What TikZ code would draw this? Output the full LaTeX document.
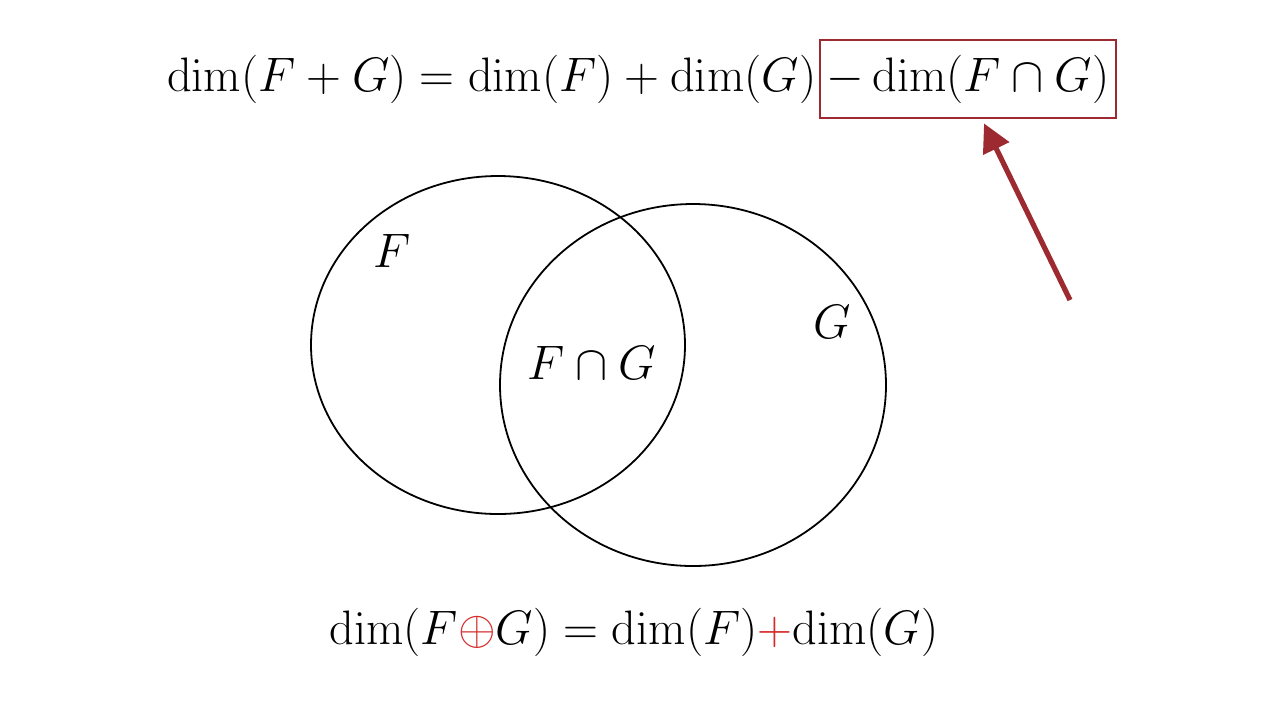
\documentclass[tikz,border=0pt]{standalone}
\usepackage{fix-cm}
\usepackage{amsmath}
\usetikzlibrary{arrows.meta}
\definecolor{boxred}{HTML}{9E2A31}
\definecolor{brightred}{HTML}{D42A2A}
\tikzset{
  big/.style={font=\fontsize{24.2}{29}\selectfont, inner sep=0pt},
  setline/.style={draw=black, line width=0.9pt},
  hilite/.style={draw=boxred, line width=1.4pt},
  pointer/.style={draw=boxred, line width=2.6pt, -{Triangle[length=14pt,width=14pt]}}
}
\begin{document}
\begin{tikzpicture}[x=0.5pt,y=-0.5pt]
\useasboundingbox (0,0) rectangle (1280,720);
% sets
\draw[setline] (498,345) ellipse [x radius=187, y radius=169];
\draw[setline] (693,385) ellipse [x radius=193, y radius=181];
\node[big] (lf) at (392,251) {$F$};
\node[big] (lg) at (832,322) {$G$};
\node[big] (lfg) at (592,363) {$F\cap G$};
% top formula
\node[big, hilite, minimum width=148pt, minimum height=39pt] (box) at (968,79) {$-\dim(F\cap G)$};
\node[big, anchor=east] (lhs) at ([xshift=-1pt]box.west) {$\dim(F+G)=\dim(F)+\dim(G)$};
% arrow
\coordinate (tail) at (1070,300);
\draw[pointer] (tail) -- ([xshift=8pt,yshift=-2pt]box.south);
% bottom formula
\node[big] (bottom) at (634,632) {$\dim(F{\color{brightred}\oplus}G)=\dim(F){\color{brightred}+}\mathrm{dim}(G)$};
\end{tikzpicture}
\end{document}
